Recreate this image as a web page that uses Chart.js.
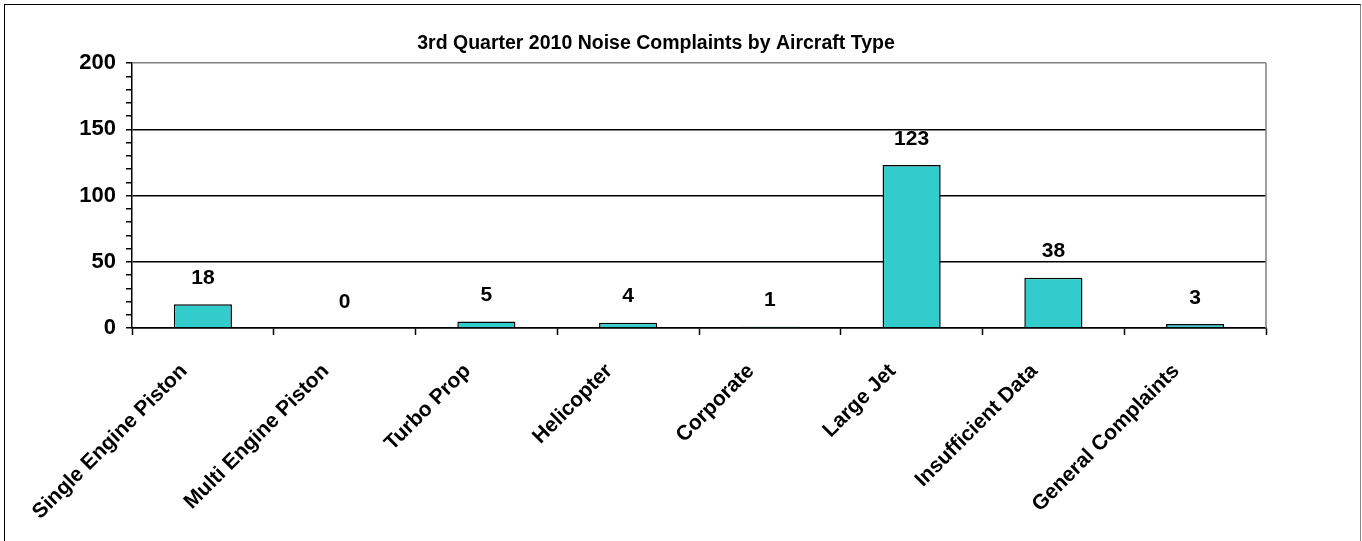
<!DOCTYPE html>
<html>
<head>
<meta charset="utf-8">
<script src="https://cdn.jsdelivr.net/npm/chart.js@4"></script>
<style>
  html, body { margin: 0; padding: 0; background: #fff; }
  #wrap { position: relative; width: 1362px; height: 541px; }
  #frame { position: absolute; left: 4px; top: 4px; width: 1355px; height: 540px;
           border-left: 1px solid #000; border-top: 1px solid #000; border-right: 1px solid #888; }
  canvas { position: absolute; left: 0; top: 0; }
</style>
</head>
<body>
<div id="wrap">
  <div id="frame"></div>
  <canvas id="noiseChart" width="1362" height="541"></canvas>
</div>
<script>
// chart values
const categories = ['Single Engine Piston', 'Multi Engine Piston', 'Turbo Prop', 'Helicopter',
                    'Corporate', 'Large Jet', 'Insufficient Data', 'General Complaints'];
const complaints = [18, 0, 5, 4, 1, 123, 38, 3];
const chartTitle = '3rd Quarter 2010 Noise Complaints by Aircraft Type';
const yMax = 200;
const yMajorStep = 50;
const yMinorStep = 10;

const boldFont = '"Liberation Sans", Arial, sans-serif';

// title is drawn by hand, it sits a bit left of the plot center in the original
const titlePlugin = {
  id: 'titlePlugin',
  afterDraw(chart) {
    const ctx = chart.ctx;
    ctx.save();
    ctx.font = 'bold 19.5px ' + boldFont;
    ctx.fillStyle = '#000';
    ctx.textAlign = 'center';
    ctx.textBaseline = 'middle';
    ctx.fillText(chartTitle, 656, 44);
    ctx.restore();
  }
};

// value labels above the bars + grey right edge of the plot area
const valueLabels = {
  id: 'valueLabels',
  afterDatasetsDraw(chart) {
    const ctx = chart.ctx;
    const meta = chart.getDatasetMeta(0);
    ctx.save();
    ctx.font = 'bold 21px ' + boldFont;
    ctx.fillStyle = '#000';
    ctx.textAlign = 'center';
    ctx.textBaseline = 'middle';
    meta.data.forEach(function(bar, i) {
      ctx.fillText(String(complaints[i]), bar.x, bar.y - 26);
    });
    const a = chart.chartArea;
    ctx.strokeStyle = '#808080';
    ctx.lineWidth = 1.5;
    ctx.beginPath();
    ctx.moveTo(a.right, a.top);
    ctx.lineTo(a.right, a.bottom);
    ctx.stroke();
    ctx.restore();
  }
};

const ctx = document.getElementById('noiseChart').getContext('2d');
const chart = new Chart(ctx, {
  type: 'bar',
  data: {
    labels: categories,
    datasets: [{
      data: complaints,
      backgroundColor: '#33CCCC',
      borderColor: '#000',
      borderWidth: 1.5,
      barPercentage: 0.41,
      categoryPercentage: 1
    }]
  },
  options: {
    responsive: false,
    animation: false,
    layout: { padding: { top: 63, right: 96, left: 0, bottom: 0 } },
    plugins: {
      legend: { display: false },
      tooltip: { enabled: false }
    },
    scales: {
      x: {
        offset: true,
        grid: {
          offset: true,
          drawOnChartArea: false,
          drawTicks: true,
          tickLength: 7,
          tickColor: '#000',
          tickWidth: 1.5
        },
        border: { color: '#000', width: 1.5 },
        ticks: {
          minRotation: 45,
          maxRotation: 45,
          autoSkip: false,
          color: '#000',
          padding: 24,
          labelOffset: -19,
          font: { family: boldFont, size: 21, weight: 'bold' }
        },
        afterFit(scale) { scale.height = 541 - 328; }
      },
      y: {
        min: 0,
        max: yMax,
        grid: {
          color(c) {
            const v = c.tick.value;
            if (v === yMax) return '#808080';
            return v % yMajorStep === 0 ? '#000' : 'rgba(0,0,0,0)';
          },
          lineWidth: 1.5,
          tickColor: '#000',
          tickLength: 6,
          tickWidth: 1.5
        },
        border: { color: '#000', width: 1.5 },
        ticks: {
          stepSize: yMinorStep,
          autoSkip: false,
          color: '#000',
          padding: 10,
          font: { family: boldFont, size: 22, weight: 'bold' },
          callback(v) { return v % yMajorStep === 0 ? v : ''; }
        },
        afterFit(scale) { scale.width = 132; }
      }
    }
  },
  plugins: [titlePlugin, valueLabels]
});
</script>
</body>
</html>
